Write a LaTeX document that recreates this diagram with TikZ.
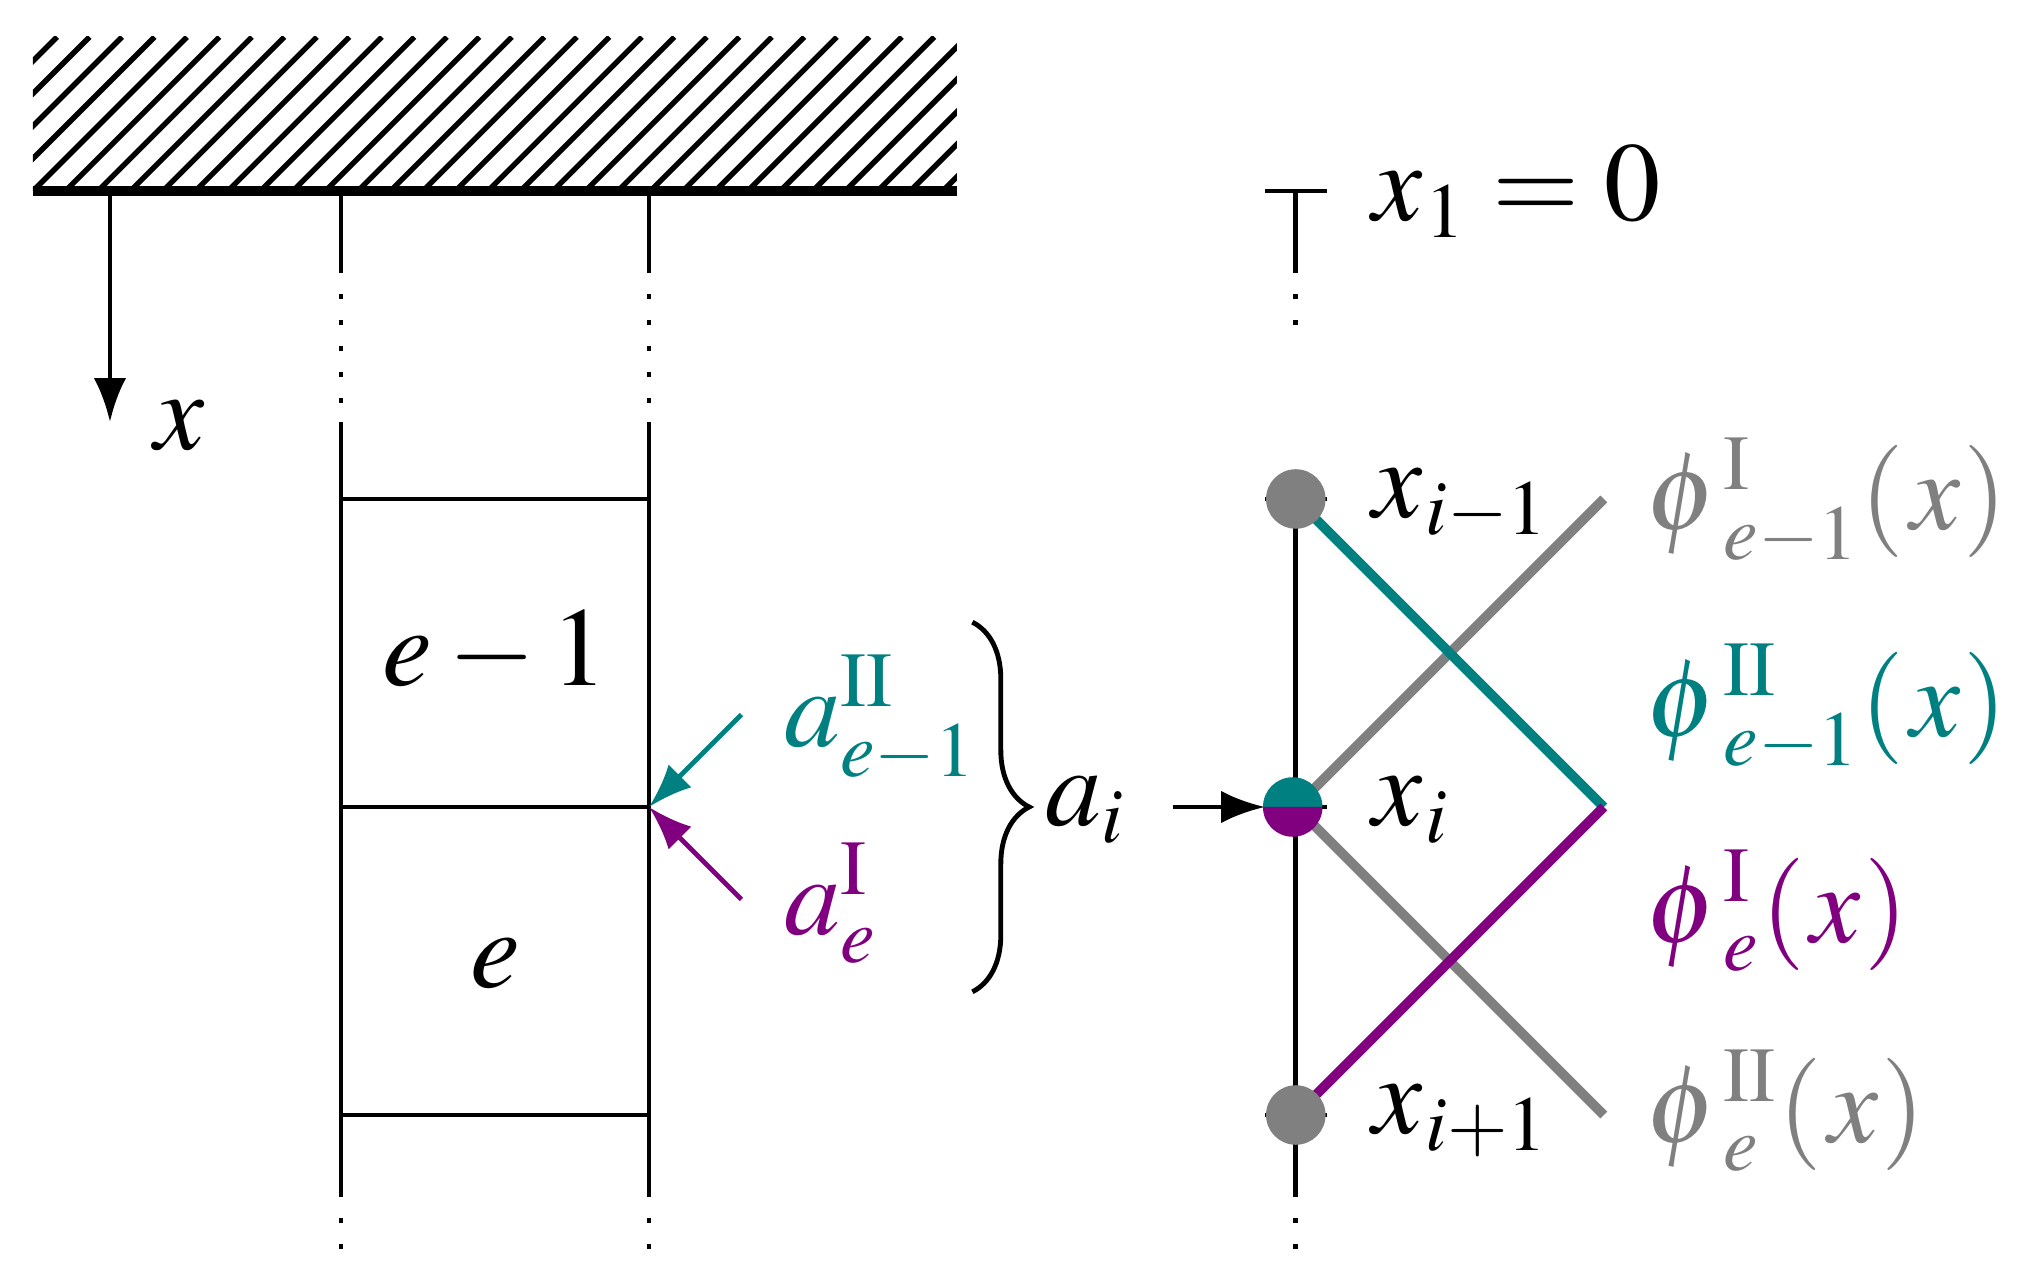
\documentclass[tikz,border=0pt]{standalone}
\usepackage{mathptmx}
\usetikzlibrary{arrows.meta,decorations.pathreplacing}
\definecolor{phiteal}{RGB}{0,128,128}
\definecolor{phipurple}{RGB}{128,0,128}
\definecolor{phigray}{RGB}{128,128,128}
\newcommand{\phifun}[2]{\phi\mkern1mu^{\mathrm{#1}}_{#2}(\mkern1mu x\mkern.5mu)}
\tikzset{
  lbl/.style={inner sep=0pt,anchor=base west,font=\huge},
  plainline/.style={line width=0.9pt},
  gapline/.style={line width=0.9pt,dash pattern=on 1pt off 3.8pt},
  funline/.style={line width=1.8pt},
  arrowed/.style={-{Latex[length=8.1pt,width=6pt]}},
  endpt/.style={circle,fill=phigray,inner sep=0pt,minimum size=11pt},
}
\begin{document}
\begin{tikzpicture}
  \useasboundingbox (-0.214,-0.065) rectangle (12.909,8.24);

  % wall
  \begin{scope}
    \clip (0,7) rectangle (6,8);
    \foreach \i in {-5,...,29}
      \draw[line width=1pt] ({\i*0.211},7) -- ({\i*0.211+1},8);
  \end{scope}
  \coordinate (wallL) at (0,7);
  \coordinate (wallR) at (6,7);
  \draw[line width=1.8pt] (wallL) -- (wallR);

  % axis
  \coordinate (ax0) at (0.5,7);
  \coordinate (ax1) at (0.5,5.5);
  \draw[plainline,arrowed] (ax0) -- (ax1);
  \node[lbl] (xlab) at (0.785,5.32) {$x$};

  % columns
  \foreach \c/\x in {l/2,r/4} {
    \coordinate (\c a) at (\x,7);
    \coordinate (\c b) at (\x,6.5);
    \coordinate (\c c) at (\x,5.5);
    \coordinate (\c d) at (\x,0.5);
    \coordinate (\c e) at (\x,0);
    \draw[plainline] (\c a) -- (\c b);
    \draw[gapline] (\c b) -- (\c c);
    \draw[plainline] (\c c) -- (\c d);
    \draw[gapline] (\c d) -- (\c e);
  }
  \foreach \y in {5,3,1} {
    \coordinate (rowL\y) at (2,\y);
    \coordinate (rowR\y) at (4,\y);
    \draw[plainline] (rowL\y) -- (rowR\y);
  }
  \node[lbl,anchor=base] (em) at (3,3.79) {$e-1$};
  \node[lbl,anchor=base] (el) at (3,1.83) {$e$};

  % coefficients
  \coordinate (jn) at (rowR3);
  \coordinate (tfrom) at (4.6,3.6);
  \coordinate (pfrom) at (4.6,2.4);
  \draw[plainline,arrowed,phiteal] (tfrom) -- (jn);
  \draw[plainline,arrowed,phipurple] (pfrom) -- (jn);
  \node[lbl,text=phiteal] (atl) at (4.87,3.39) {$a^{\mathrm{II}}_{e-1}$};
  \node[lbl,text=phipurple] (apl) at (4.87,2.17) {$a^{\mathrm{I}}_{e}$};

  \coordinate (brT) at (6.1,4.2);
  \coordinate (brB) at (6.1,1.8);
  \draw[plainline,decorate,decoration={brace,amplitude=10.5pt}] (brT) -- (brB);
  \node[lbl] (ai) at (6.57,2.88) {$a_i$};

  % mesh
  \coordinate (ma) at (8.2,7);
  \coordinate (mb) at (8.2,6.5);
  \coordinate (mc) at (8.2,6.1);
  \coordinate (md) at (8.2,0.5);
  \coordinate (me) at (8.2,0);
  \coordinate (mf) at (8.2,5.0);
  \draw[plainline] (ma) -- (mb);
  \draw[gapline] (mb) -- (mc);
  \draw[plainline] (mf) -- (md);
  \draw[gapline] (md) -- (me);
  \foreach \n/\y in {t/7,u/5,m/3,d/1} {
    \coordinate (tk\n a) at (8,\y);
    \coordinate (tk\n b) at (8.4,\y);
    \draw[plainline] (tk\n a) -- (tk\n b);
  }
  \coordinate (arr) at (7.4,3);
  \draw[plainline,arrowed] (arr) -- (tkma);

  % shape functions
  \coordinate (pk) at (10.2,3);
  \coordinate (gu) at (10.2,5);
  \coordinate (gd) at (10.2,1);
  \coordinate (n0) at (8.2,5);
  \coordinate (n1) at (8.2,3);
  \coordinate (n2) at (8.2,1);
  \draw[funline,phigray] (n1) -- (gu);
  \draw[funline,phigray] (n1) -- (gd);
  \draw[funline,phiteal] (n0) -- (pk);
  \draw[funline,phipurple] (n2) -- (pk);

  \node[endpt] (nu) at (8.2,5) {};
  \node[endpt] (nd) at (8.2,1) {};
  \fill[phiteal] (8.18,3) ++(-5.5pt,0) arc[start angle=180,end angle=0,radius=5.5pt] -- cycle;
  \fill[phipurple] (8.18,3) ++(-5.5pt,0) arc[start angle=180,end angle=360,radius=5.5pt] -- cycle;

  \node[lbl] (xone) at (8.69,6.81) {$x\mkern.5mu_1=0$};
  \node[lbl] (xim) at (8.69,4.88) {$x\mkern.5mu_{i-1}$};
  \node[lbl] (xi) at (8.69,2.88) {$x\mkern.5mu_i$};
  \node[lbl] (xip) at (8.69,0.88) {$x\mkern.5mu_{i+1}$};

  \node[lbl,text=phigray] (p1) at (10.47,4.80) {$\phifun{I}{e-1}$};
  \node[lbl,text=phiteal] (p2) at (10.47,3.46) {$\phifun{II}{e-1}$};
  \node[lbl,text=phipurple] (p3) at (10.47,2.12) {$\phifun{I}{e}$};
  \node[lbl,text=phigray] (p4) at (10.47,0.82) {$\phifun{II}{e}$};
\end{tikzpicture}
\end{document}
